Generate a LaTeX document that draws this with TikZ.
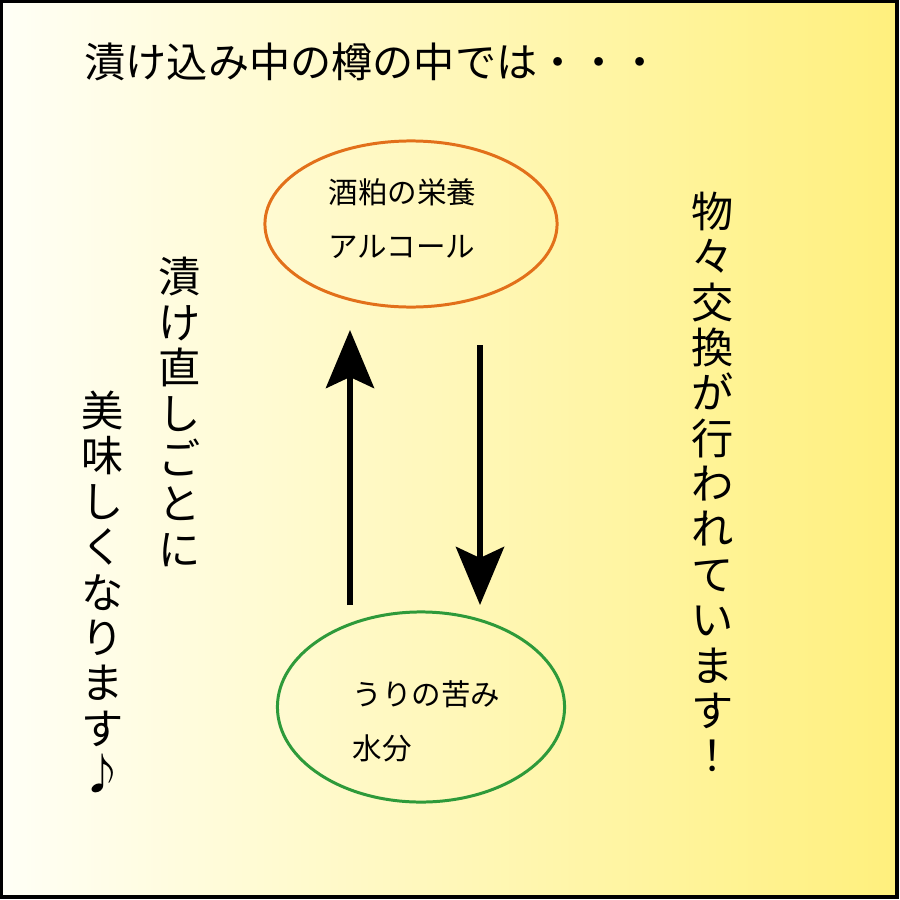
\documentclass[tikz,border=0pt]{standalone}
\usepackage{fontspec}
\setmainfont{Noto Sans CJK JP}
\usetikzlibrary{shapes.geometric, arrows.meta}
\definecolor{kasuorange}{RGB}{226,112,26}
\definecolor{uriGreen}{RGB}{46,154,58}
\definecolor{bgleft}{RGB}{255,255,246}
\definecolor{bgright}{RGB}{255,240,125}
\tikzset{
  tate/.style={align=center, font=\fontsize{12}{12.9}\selectfont, inner sep=0pt},
  naka/.style={anchor=west, align=left, font=\fontsize{8.4}{15.4}\selectfont, inner sep=0pt},
  taru/.style={ellipse, draw, line width=0.85pt, inner sep=0pt}
}
\begin{document}
\begin{tikzpicture}[>={Stealth[length=5.8mm, width=4.8mm, inset=1.1mm]}, every node/.style={text=black}]
  \begin{scope}[x=0.01cm, y=-0.01cm]
    % 背景と枠
    \useasboundingbox (0,0) rectangle (900,900);
    \shade[left color=bgleft, right color=bgright] (1,1) rectangle (897,897);
    \draw[line width=0.9pt] (1,1) rectangle (897,897);

    % 見出し
    \node[anchor=west, font=\fontsize{11.7}{12}\selectfont, inner sep=0pt] (midashi) at (84,62) {漬け込み中の樽の中では・・・};

    % 1. 二つの楕円
    \node[taru, draw=kasuorange, minimum width=2.92cm, minimum height=1.66cm] (kasu) at (411,224) {};
    \node[naka] (kasutxt) at (328,219) {酒粕の栄養\\アルコール};
    \node[taru, draw=uriGreen, minimum width=2.87cm, minimum height=1.90cm] (uri) at (421,707) {};
    \node[naka] (uritxt) at (352,721) {うりの苦み\\水分};

    % 2. 矢印 (端点は座標で指定)
    \coordinate (agaruA) at (350,605);
    \coordinate (agaruB) at (350,330);
    \coordinate (sagaruA) at (480,345);
    \coordinate (sagaruB) at (480,605);
    \draw[->, line width=1.7pt] (agaruA) -- (agaruB);
    \draw[->, line width=1.7pt] (sagaruA) -- (sagaruB);

    % 3. 縦書きの文
    \node[tate] (migi) at (713,482) {物\\々\\交\\換\\が\\行\\わ\\れ\\て\\い\\ま\\す\\！};
    \node[tate] (hidari1) at (180,412) {漬\\け\\直\\し\\ご\\と\\に};
    \node[tate] (hidari2) at (103,592) {美\\味\\し\\く\\な\\り\\ま\\す\\♪};
  \end{scope}
\end{tikzpicture}
\end{document}
